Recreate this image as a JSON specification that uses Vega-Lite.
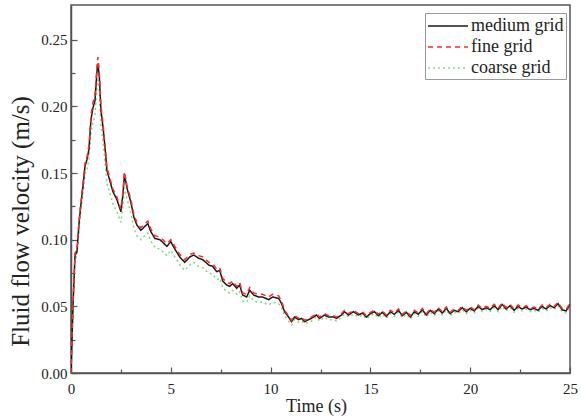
{
  "$schema": "https://vega.github.io/schema/vega-lite/v6.json",
  "width": 499,
  "height": 368,
  "autosize": {"type": "none"},
  "padding": {"left": 71, "top": 5, "right": 11, "bottom": 45},
  "background": "white",
  "config": {
    "font": "Liberation Serif",
    "view": {"stroke": "#555", "strokeWidth": 1.5},
    "axis": {"domainColor": "#555", "domainWidth": 1.5, "tickColor": "#555", "tickWidth": 1.2, "grid": false, "labelColor": "#222", "titleColor": "#222", "labelFont": "Liberation Serif", "titleFont": "Liberation Serif", "titleFontWeight": "normal"}
  },
  "data": {"values": [
    {"s":"coarse grid","t":0,"v":0},{"s":"coarse grid","t":0.1,"v":0.048},{"s":"coarse grid","t":0.2,"v":0.085},{"s":"coarse grid","t":0.3,"v":0.088},{"s":"coarse grid","t":0.4,"v":0.108},{"s":"coarse grid","t":0.5,"v":0.122},{"s":"coarse grid","t":0.6,"v":0.135},{"s":"coarse grid","t":0.7,"v":0.149},{"s":"coarse grid","t":0.8,"v":0.153},{"s":"coarse grid","t":0.9,"v":0.16},{"s":"coarse grid","t":1.0,"v":0.18},{"s":"coarse grid","t":1.1,"v":0.188},{"s":"coarse grid","t":1.2,"v":0.194},{"s":"coarse grid","t":1.3,"v":0.213},{"s":"coarse grid","t":1.35,"v":0.22},{"s":"coarse grid","t":1.42,"v":0.211},{"s":"coarse grid","t":1.5,"v":0.186},{"s":"coarse grid","t":1.6,"v":0.174},{"s":"coarse grid","t":1.7,"v":0.159},{"s":"coarse grid","t":1.8,"v":0.142},{"s":"coarse grid","t":1.95,"v":0.135},{"s":"coarse grid","t":2.1,"v":0.127},{"s":"coarse grid","t":2.3,"v":0.121},{"s":"coarse grid","t":2.5,"v":0.113},{"s":"coarse grid","t":2.6,"v":0.125},{"s":"coarse grid","t":2.68,"v":0.139},{"s":"coarse grid","t":2.8,"v":0.131},{"s":"coarse grid","t":3.0,"v":0.12},{"s":"coarse grid","t":3.15,"v":0.109},{"s":"coarse grid","t":3.3,"v":0.103},{"s":"coarse grid","t":3.5,"v":0.1},{"s":"coarse grid","t":3.7,"v":0.103},{"s":"coarse grid","t":3.85,"v":0.105},{"s":"coarse grid","t":4.0,"v":0.099},{"s":"coarse grid","t":4.2,"v":0.094},{"s":"coarse grid","t":4.45,"v":0.093},{"s":"coarse grid","t":4.6,"v":0.091},{"s":"coarse grid","t":4.8,"v":0.088},{"s":"coarse grid","t":5.0,"v":0.092},{"s":"coarse grid","t":5.2,"v":0.087},{"s":"coarse grid","t":5.45,"v":0.081},{"s":"coarse grid","t":5.7,"v":0.077},{"s":"coarse grid","t":5.95,"v":0.081},{"s":"coarse grid","t":6.15,"v":0.083},{"s":"coarse grid","t":6.4,"v":0.08},{"s":"coarse grid","t":6.6,"v":0.079},{"s":"coarse grid","t":6.9,"v":0.075},{"s":"coarse grid","t":7.1,"v":0.074},{"s":"coarse grid","t":7.3,"v":0.07},{"s":"coarse grid","t":7.45,"v":0.071},{"s":"coarse grid","t":7.6,"v":0.064},{"s":"coarse grid","t":7.8,"v":0.061},{"s":"coarse grid","t":7.95,"v":0.06},{"s":"coarse grid","t":8.1,"v":0.062},{"s":"coarse grid","t":8.3,"v":0.059},{"s":"coarse grid","t":8.45,"v":0.061},{"s":"coarse grid","t":8.6,"v":0.054},{"s":"coarse grid","t":8.8,"v":0.053},{"s":"coarse grid","t":8.95,"v":0.058},{"s":"coarse grid","t":9.15,"v":0.054},{"s":"coarse grid","t":9.4,"v":0.053},{"s":"coarse grid","t":9.6,"v":0.053},{"s":"coarse grid","t":9.9,"v":0.051},{"s":"coarse grid","t":10.1,"v":0.053},{"s":"coarse grid","t":10.4,"v":0.052},{"s":"coarse grid","t":10.55,"v":0.049},{"s":"coarse grid","t":10.7,"v":0.043},{"s":"coarse grid","t":10.9,"v":0.039},{"s":"coarse grid","t":11.05,"v":0.036},{"s":"coarse grid","t":11.2,"v":0.04},{"s":"coarse grid","t":11.4,"v":0.038},{"s":"coarse grid","t":11.55,"v":0.039},{"s":"coarse grid","t":11.7,"v":0.037},{"s":"coarse grid","t":11.9,"v":0.038},{"s":"coarse grid","t":12.05,"v":0.039},{"s":"coarse grid","t":12.3,"v":0.042},{"s":"coarse grid","t":12.45,"v":0.039},{"s":"coarse grid","t":12.7,"v":0.042},{"s":"coarse grid","t":12.9,"v":0.04},{"s":"coarse grid","t":13.15,"v":0.04},{"s":"coarse grid","t":13.3,"v":0.039},{"s":"coarse grid","t":13.55,"v":0.042},{"s":"coarse grid","t":13.7,"v":0.044},{"s":"coarse grid","t":13.9,"v":0.042},{"s":"coarse grid","t":14.15,"v":0.044},{"s":"coarse grid","t":14.4,"v":0.042},
    {"s":"coarse grid","t":14.6,"v":0.0435},{"s":"coarse grid","t":14.8,"v":0.0405},{"s":"coarse grid","t":15.0,"v":0.043},{"s":"coarse grid","t":15.2,"v":0.0445},{"s":"coarse grid","t":15.4,"v":0.0415},{"s":"coarse grid","t":15.6,"v":0.044},{"s":"coarse grid","t":15.8,"v":0.041},{"s":"coarse grid","t":16.0,"v":0.0445},{"s":"coarse grid","t":16.2,"v":0.0425},{"s":"coarse grid","t":16.4,"v":0.0455},{"s":"coarse grid","t":16.6,"v":0.0415},{"s":"coarse grid","t":16.8,"v":0.044},{"s":"coarse grid","t":17.0,"v":0.0405},{"s":"coarse grid","t":17.2,"v":0.0445},{"s":"coarse grid","t":17.4,"v":0.0425},{"s":"coarse grid","t":17.6,"v":0.046},{"s":"coarse grid","t":17.8,"v":0.042},{"s":"coarse grid","t":18.0,"v":0.0455},{"s":"coarse grid","t":18.2,"v":0.043},{"s":"coarse grid","t":18.4,"v":0.0465},{"s":"coarse grid","t":18.6,"v":0.0435},{"s":"coarse grid","t":18.8,"v":0.047},{"s":"coarse grid","t":19.0,"v":0.043},{"s":"coarse grid","t":19.2,"v":0.0455},{"s":"coarse grid","t":19.4,"v":0.0445},{"s":"coarse grid","t":19.6,"v":0.0475},{"s":"coarse grid","t":19.8,"v":0.0445},{"s":"coarse grid","t":20.0,"v":0.047},{"s":"coarse grid","t":20.2,"v":0.045},{"s":"coarse grid","t":20.4,"v":0.0485},{"s":"coarse grid","t":20.6,"v":0.046},{"s":"coarse grid","t":20.8,"v":0.0475},{"s":"coarse grid","t":21.0,"v":0.046},{"s":"coarse grid","t":21.2,"v":0.049},{"s":"coarse grid","t":21.4,"v":0.046},{"s":"coarse grid","t":21.6,"v":0.05},{"s":"coarse grid","t":21.8,"v":0.0465},{"s":"coarse grid","t":22.0,"v":0.049},{"s":"coarse grid","t":22.2,"v":0.0455},{"s":"coarse grid","t":22.4,"v":0.0485},{"s":"coarse grid","t":22.6,"v":0.0465},{"s":"coarse grid","t":22.8,"v":0.048},{"s":"coarse grid","t":23.0,"v":0.046},{"s":"coarse grid","t":23.2,"v":0.047},{"s":"coarse grid","t":23.4,"v":0.0455},{"s":"coarse grid","t":23.6,"v":0.0485},{"s":"coarse grid","t":23.8,"v":0.0465},{"s":"coarse grid","t":24.0,"v":0.049},{"s":"coarse grid","t":24.2,"v":0.0475},{"s":"coarse grid","t":24.4,"v":0.0505},{"s":"coarse grid","t":24.6,"v":0.046},{"s":"coarse grid","t":24.8,"v":0.045},{"s":"coarse grid","t":25.0,"v":0.05},

    {"s":"medium grid","t":0,"v":0},{"s":"medium grid","t":0.1,"v":0.05},{"s":"medium grid","t":0.2,"v":0.088},{"s":"medium grid","t":0.3,"v":0.091},{"s":"medium grid","t":0.4,"v":0.112},{"s":"medium grid","t":0.5,"v":0.127},{"s":"medium grid","t":0.6,"v":0.14},{"s":"medium grid","t":0.7,"v":0.155},{"s":"medium grid","t":0.8,"v":0.16},{"s":"medium grid","t":0.9,"v":0.168},{"s":"medium grid","t":1.0,"v":0.19},{"s":"medium grid","t":1.1,"v":0.199},{"s":"medium grid","t":1.2,"v":0.204},{"s":"medium grid","t":1.3,"v":0.226},{"s":"medium grid","t":1.35,"v":0.232},{"s":"medium grid","t":1.42,"v":0.222},{"s":"medium grid","t":1.5,"v":0.197},{"s":"medium grid","t":1.6,"v":0.185},{"s":"medium grid","t":1.7,"v":0.17},{"s":"medium grid","t":1.8,"v":0.152},{"s":"medium grid","t":1.95,"v":0.144},{"s":"medium grid","t":2.1,"v":0.136},{"s":"medium grid","t":2.3,"v":0.13},{"s":"medium grid","t":2.5,"v":0.121},{"s":"medium grid","t":2.6,"v":0.134},{"s":"medium grid","t":2.68,"v":0.149},{"s":"medium grid","t":2.8,"v":0.139},{"s":"medium grid","t":3.0,"v":0.128},{"s":"medium grid","t":3.15,"v":0.117},{"s":"medium grid","t":3.3,"v":0.111},{"s":"medium grid","t":3.5,"v":0.107},{"s":"medium grid","t":3.7,"v":0.11},{"s":"medium grid","t":3.85,"v":0.112},{"s":"medium grid","t":4.0,"v":0.106},{"s":"medium grid","t":4.2,"v":0.101},{"s":"medium grid","t":4.45,"v":0.1},{"s":"medium grid","t":4.6,"v":0.098},{"s":"medium grid","t":4.8,"v":0.095},{"s":"medium grid","t":5.0,"v":0.0985},{"s":"medium grid","t":5.2,"v":0.093},{"s":"medium grid","t":5.45,"v":0.087},{"s":"medium grid","t":5.7,"v":0.083},{"s":"medium grid","t":5.95,"v":0.087},{"s":"medium grid","t":6.15,"v":0.0885},{"s":"medium grid","t":6.4,"v":0.086},{"s":"medium grid","t":6.6,"v":0.085},{"s":"medium grid","t":6.9,"v":0.081},{"s":"medium grid","t":7.1,"v":0.08},{"s":"medium grid","t":7.3,"v":0.076},{"s":"medium grid","t":7.45,"v":0.077},{"s":"medium grid","t":7.6,"v":0.069},{"s":"medium grid","t":7.8,"v":0.066},{"s":"medium grid","t":7.95,"v":0.065},{"s":"medium grid","t":8.1,"v":0.067},{"s":"medium grid","t":8.3,"v":0.0635},{"s":"medium grid","t":8.45,"v":0.066},{"s":"medium grid","t":8.6,"v":0.0585},{"s":"medium grid","t":8.8,"v":0.057},{"s":"medium grid","t":8.95,"v":0.062},{"s":"medium grid","t":9.15,"v":0.0585},{"s":"medium grid","t":9.4,"v":0.057},{"s":"medium grid","t":9.6,"v":0.057},{"s":"medium grid","t":9.9,"v":0.055},{"s":"medium grid","t":10.1,"v":0.057},{"s":"medium grid","t":10.4,"v":0.056},{"s":"medium grid","t":10.55,"v":0.052},{"s":"medium grid","t":10.7,"v":0.046},{"s":"medium grid","t":10.9,"v":0.042},{"s":"medium grid","t":11.05,"v":0.0385},{"s":"medium grid","t":11.2,"v":0.042},{"s":"medium grid","t":11.4,"v":0.04},{"s":"medium grid","t":11.55,"v":0.041},{"s":"medium grid","t":11.7,"v":0.0385},{"s":"medium grid","t":11.9,"v":0.04},{"s":"medium grid","t":12.05,"v":0.041},{"s":"medium grid","t":12.3,"v":0.0435},{"s":"medium grid","t":12.45,"v":0.041},{"s":"medium grid","t":12.7,"v":0.0435},{"s":"medium grid","t":12.9,"v":0.042},{"s":"medium grid","t":13.15,"v":0.042},{"s":"medium grid","t":13.3,"v":0.041},{"s":"medium grid","t":13.55,"v":0.0435},{"s":"medium grid","t":13.7,"v":0.046},{"s":"medium grid","t":13.9,"v":0.0435},{"s":"medium grid","t":14.15,"v":0.046},{"s":"medium grid","t":14.4,"v":0.0435},
    {"s":"medium grid","t":14.6,"v":0.045},{"s":"medium grid","t":14.8,"v":0.042},{"s":"medium grid","t":15.0,"v":0.0445},{"s":"medium grid","t":15.2,"v":0.046},{"s":"medium grid","t":15.4,"v":0.043},{"s":"medium grid","t":15.6,"v":0.0455},{"s":"medium grid","t":15.8,"v":0.0425},{"s":"medium grid","t":16.0,"v":0.046},{"s":"medium grid","t":16.2,"v":0.044},{"s":"medium grid","t":16.4,"v":0.047},{"s":"medium grid","t":16.6,"v":0.043},{"s":"medium grid","t":16.8,"v":0.0455},{"s":"medium grid","t":17.0,"v":0.042},{"s":"medium grid","t":17.2,"v":0.046},{"s":"medium grid","t":17.4,"v":0.044},{"s":"medium grid","t":17.6,"v":0.0475},{"s":"medium grid","t":17.8,"v":0.0435},{"s":"medium grid","t":18.0,"v":0.047},{"s":"medium grid","t":18.2,"v":0.0445},{"s":"medium grid","t":18.4,"v":0.048},{"s":"medium grid","t":18.6,"v":0.045},{"s":"medium grid","t":18.8,"v":0.0485},{"s":"medium grid","t":19.0,"v":0.0445},{"s":"medium grid","t":19.2,"v":0.047},{"s":"medium grid","t":19.4,"v":0.046},{"s":"medium grid","t":19.6,"v":0.049},{"s":"medium grid","t":19.8,"v":0.046},{"s":"medium grid","t":20.0,"v":0.0485},{"s":"medium grid","t":20.2,"v":0.0465},{"s":"medium grid","t":20.4,"v":0.05},{"s":"medium grid","t":20.6,"v":0.0475},{"s":"medium grid","t":20.8,"v":0.049},{"s":"medium grid","t":21.0,"v":0.0475},{"s":"medium grid","t":21.2,"v":0.0505},{"s":"medium grid","t":21.4,"v":0.0475},{"s":"medium grid","t":21.6,"v":0.0515},{"s":"medium grid","t":21.8,"v":0.048},{"s":"medium grid","t":22.0,"v":0.0505},{"s":"medium grid","t":22.2,"v":0.047},{"s":"medium grid","t":22.4,"v":0.05},{"s":"medium grid","t":22.6,"v":0.048},{"s":"medium grid","t":22.8,"v":0.0495},{"s":"medium grid","t":23.0,"v":0.0475},{"s":"medium grid","t":23.2,"v":0.0485},{"s":"medium grid","t":23.4,"v":0.047},{"s":"medium grid","t":23.6,"v":0.05},{"s":"medium grid","t":23.8,"v":0.048},{"s":"medium grid","t":24.0,"v":0.0505},{"s":"medium grid","t":24.2,"v":0.049},{"s":"medium grid","t":24.4,"v":0.052},{"s":"medium grid","t":24.6,"v":0.0475},{"s":"medium grid","t":24.8,"v":0.0465},{"s":"medium grid","t":25.0,"v":0.0515},

    {"s":"fine grid","t":0,"v":0},{"s":"fine grid","t":0.1,"v":0.052},{"s":"fine grid","t":0.2,"v":0.09},{"s":"fine grid","t":0.3,"v":0.093},{"s":"fine grid","t":0.4,"v":0.114},{"s":"fine grid","t":0.5,"v":0.129},{"s":"fine grid","t":0.6,"v":0.142},{"s":"fine grid","t":0.7,"v":0.157},{"s":"fine grid","t":0.8,"v":0.162},{"s":"fine grid","t":0.9,"v":0.171},{"s":"fine grid","t":1.0,"v":0.193},{"s":"fine grid","t":1.1,"v":0.203},{"s":"fine grid","t":1.2,"v":0.208},{"s":"fine grid","t":1.3,"v":0.23},{"s":"fine grid","t":1.35,"v":0.237},{"s":"fine grid","t":1.42,"v":0.226},{"s":"fine grid","t":1.5,"v":0.2},{"s":"fine grid","t":1.6,"v":0.188},{"s":"fine grid","t":1.7,"v":0.172},{"s":"fine grid","t":1.8,"v":0.154},{"s":"fine grid","t":1.95,"v":0.146},{"s":"fine grid","t":2.1,"v":0.138},{"s":"fine grid","t":2.3,"v":0.132},{"s":"fine grid","t":2.5,"v":0.123},{"s":"fine grid","t":2.6,"v":0.136},{"s":"fine grid","t":2.68,"v":0.151},{"s":"fine grid","t":2.8,"v":0.141},{"s":"fine grid","t":3.0,"v":0.13},{"s":"fine grid","t":3.15,"v":0.119},{"s":"fine grid","t":3.3,"v":0.113},{"s":"fine grid","t":3.5,"v":0.109},{"s":"fine grid","t":3.7,"v":0.112},{"s":"fine grid","t":3.85,"v":0.114},{"s":"fine grid","t":4.0,"v":0.108},{"s":"fine grid","t":4.2,"v":0.103},{"s":"fine grid","t":4.45,"v":0.102},{"s":"fine grid","t":4.6,"v":0.1},{"s":"fine grid","t":4.8,"v":0.097},{"s":"fine grid","t":5.0,"v":0.1},{"s":"fine grid","t":5.2,"v":0.095},{"s":"fine grid","t":5.45,"v":0.089},{"s":"fine grid","t":5.7,"v":0.085},{"s":"fine grid","t":5.95,"v":0.089},{"s":"fine grid","t":6.15,"v":0.09},{"s":"fine grid","t":6.4,"v":0.088},{"s":"fine grid","t":6.6,"v":0.087},{"s":"fine grid","t":6.9,"v":0.083},{"s":"fine grid","t":7.1,"v":0.082},{"s":"fine grid","t":7.3,"v":0.078},{"s":"fine grid","t":7.45,"v":0.079},{"s":"fine grid","t":7.6,"v":0.071},{"s":"fine grid","t":7.8,"v":0.068},{"s":"fine grid","t":7.95,"v":0.067},{"s":"fine grid","t":8.1,"v":0.069},{"s":"fine grid","t":8.3,"v":0.065},{"s":"fine grid","t":8.45,"v":0.068},{"s":"fine grid","t":8.6,"v":0.06},{"s":"fine grid","t":8.8,"v":0.059},{"s":"fine grid","t":8.95,"v":0.064},{"s":"fine grid","t":9.15,"v":0.06},{"s":"fine grid","t":9.4,"v":0.059},{"s":"fine grid","t":9.6,"v":0.059},{"s":"fine grid","t":9.9,"v":0.057},{"s":"fine grid","t":10.1,"v":0.059},{"s":"fine grid","t":10.4,"v":0.058},{"s":"fine grid","t":10.55,"v":0.054},{"s":"fine grid","t":10.7,"v":0.047},{"s":"fine grid","t":10.9,"v":0.043},{"s":"fine grid","t":11.05,"v":0.0395},{"s":"fine grid","t":11.2,"v":0.043},{"s":"fine grid","t":11.4,"v":0.041},{"s":"fine grid","t":11.55,"v":0.042},{"s":"fine grid","t":11.7,"v":0.0395},{"s":"fine grid","t":11.9,"v":0.041},{"s":"fine grid","t":12.05,"v":0.042},{"s":"fine grid","t":12.3,"v":0.0445},{"s":"fine grid","t":12.45,"v":0.042},{"s":"fine grid","t":12.7,"v":0.0445},{"s":"fine grid","t":12.9,"v":0.043},{"s":"fine grid","t":13.15,"v":0.043},{"s":"fine grid","t":13.3,"v":0.042},{"s":"fine grid","t":13.55,"v":0.0445},{"s":"fine grid","t":13.7,"v":0.047},{"s":"fine grid","t":13.9,"v":0.0445},{"s":"fine grid","t":14.15,"v":0.047},{"s":"fine grid","t":14.4,"v":0.0445},
    {"s":"fine grid","t":14.6,"v":0.046},{"s":"fine grid","t":14.8,"v":0.043},{"s":"fine grid","t":15.0,"v":0.0455},{"s":"fine grid","t":15.2,"v":0.047},{"s":"fine grid","t":15.4,"v":0.044},{"s":"fine grid","t":15.6,"v":0.0465},{"s":"fine grid","t":15.8,"v":0.0435},{"s":"fine grid","t":16.0,"v":0.047},{"s":"fine grid","t":16.2,"v":0.045},{"s":"fine grid","t":16.4,"v":0.048},{"s":"fine grid","t":16.6,"v":0.044},{"s":"fine grid","t":16.8,"v":0.0465},{"s":"fine grid","t":17.0,"v":0.043},{"s":"fine grid","t":17.2,"v":0.047},{"s":"fine grid","t":17.4,"v":0.045},{"s":"fine grid","t":17.6,"v":0.0485},{"s":"fine grid","t":17.8,"v":0.0445},{"s":"fine grid","t":18.0,"v":0.048},{"s":"fine grid","t":18.2,"v":0.0455},{"s":"fine grid","t":18.4,"v":0.049},{"s":"fine grid","t":18.6,"v":0.046},{"s":"fine grid","t":18.8,"v":0.0495},{"s":"fine grid","t":19.0,"v":0.0455},{"s":"fine grid","t":19.2,"v":0.048},{"s":"fine grid","t":19.4,"v":0.047},{"s":"fine grid","t":19.6,"v":0.05},{"s":"fine grid","t":19.8,"v":0.047},{"s":"fine grid","t":20.0,"v":0.0495},{"s":"fine grid","t":20.2,"v":0.0475},{"s":"fine grid","t":20.4,"v":0.051},{"s":"fine grid","t":20.6,"v":0.0485},{"s":"fine grid","t":20.8,"v":0.05},{"s":"fine grid","t":21.0,"v":0.0485},{"s":"fine grid","t":21.2,"v":0.0515},{"s":"fine grid","t":21.4,"v":0.0485},{"s":"fine grid","t":21.6,"v":0.0525},{"s":"fine grid","t":21.8,"v":0.049},{"s":"fine grid","t":22.0,"v":0.0515},{"s":"fine grid","t":22.2,"v":0.048},{"s":"fine grid","t":22.4,"v":0.051},{"s":"fine grid","t":22.6,"v":0.049},{"s":"fine grid","t":22.8,"v":0.0505},{"s":"fine grid","t":23.0,"v":0.0485},{"s":"fine grid","t":23.2,"v":0.0495},{"s":"fine grid","t":23.4,"v":0.048},{"s":"fine grid","t":23.6,"v":0.051},{"s":"fine grid","t":23.8,"v":0.049},{"s":"fine grid","t":24.0,"v":0.0515},{"s":"fine grid","t":24.2,"v":0.05},{"s":"fine grid","t":24.4,"v":0.053},{"s":"fine grid","t":24.6,"v":0.0485},{"s":"fine grid","t":24.8,"v":0.0475},{"s":"fine grid","t":25.0,"v":0.0525}
  ]},
  "mark": {"type": "line", "strokeWidth": 1.5, "clip": true},
  "encoding": {
    "x": {
      "field": "t", "type": "quantitative",
      "scale": {"domain": [0, 25], "nice": false, "zero": false},
      "axis": {
        "title": "Time (s)", "titleFontSize": 18, "titleBaseline": "middle", "titleX": 245, "titleY": 33,
        "values": [0, 2.5, 5, 7.5, 10, 12.5, 15, 17.5, 20, 22.5, 25],
        "labelExpr": "datum.value % 5 === 0 ? format(datum.value, 'd') : ''",
        "labelFontSize": 15, "labelPadding": 14, "labelFlush": false, "labelOverlap": false,
        "tickSize": {"condition": {"test": "datum.value % 5 === 0", "value": -6}, "value": -4}
      }
    },
    "y": {
      "field": "v", "type": "quantitative",
      "scale": {"domain": [0, 0.276], "nice": false},
      "axis": {
        "title": "Fluid flow velocity (m/s)", "titleFontSize": 25, "titleBaseline": "middle", "titleX": -51, "titleY": 216,
        "values": [0, 0.025, 0.05, 0.075, 0.1, 0.125, 0.15, 0.175, 0.2, 0.225, 0.25],
        "labelExpr": "round(datum.value * 1000) % 50 === 0 ? format(datum.value, '.2f') : ''",
        "labelFontSize": 15, "labelPadding": 10, "labelFlush": false, "labelOverlap": false,
        "tickSize": {"condition": {"test": "round(datum.value * 1000) % 50 === 0", "value": -6}, "value": -4}
      }
    },
    "color": {
      "field": "s", "type": "nominal",
      "scale": {"domain": ["medium grid", "fine grid", "coarse grid"], "range": ["#1a1a1a", "#ff2a2a", "#7ddc7d"]},
      "legend": {
        "title": null, "orient": "none", "legendX": 354, "legendY": 8,
        "strokeColor": "#999", "fillColor": "white", "padding": 2,
        "symbolType": "M-1,0H3", "symbolSize": 400, "symbolStrokeWidth": 1.5,
        "labelFontSize": 18, "labelColor": "#222", "labelOffset": 22, "rowPadding": 1, "labelLimit": 200
      }
    },
    "strokeDash": {
      "field": "s", "type": "nominal",
      "scale": {"domain": ["medium grid", "fine grid", "coarse grid"], "range": [[1, 0], [5, 4], [2, 3]]},
      "legend": {
        "title": null, "orient": "none", "legendX": 354, "legendY": 8,
        "strokeColor": "#999", "fillColor": "white", "padding": 2,
        "symbolType": "M-1,0H3", "symbolSize": 400, "symbolStrokeWidth": 1.5,
        "labelFontSize": 18, "labelColor": "#222", "labelOffset": 22, "rowPadding": 1, "labelLimit": 200
      }
    }
  }
}
